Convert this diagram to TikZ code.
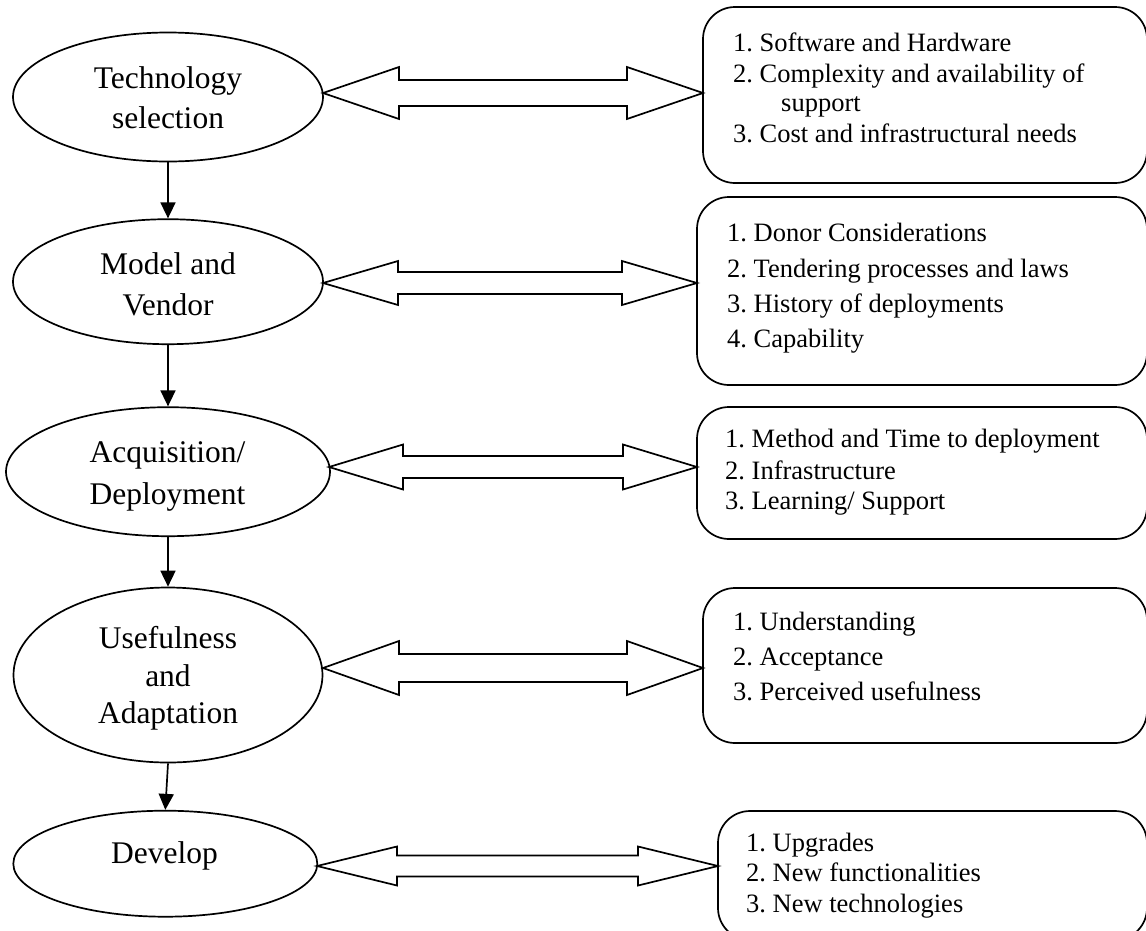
\documentclass[tikz,border=0pt]{standalone}
\usepackage{fontspec}
\setmainfont{Liberation Serif}
\usetikzlibrary{arrows.meta,shapes.geometric,calc}
\frenchspacing
\tikzset{
  stage/.style={draw, ellipse, line width=1.7pt, inner sep=0pt},
  infobox/.style={draw, rectangle, rounded corners=32pt, line width=1.7pt, inner sep=0pt},
  etext/.style={anchor=base, font=\fontsize{31.5}{36}\selectfont, inner sep=0pt},
  btext/.style={anchor=base west, font=\fontsize{26.5}{30}\selectfont, inner sep=0pt},
  flow/.style={line width=1.7pt, -{Triangle[length=16pt,width=15pt]}},
  dblarr/.style={line width=1.7pt, line join=miter},
}
\newcommand\dblarrow[5]{%
  \draw[dblarr] let \p1=(#1), \p2=(#2) in
   (\x1,\y1) -- (\x1+#3pt,\y1+#4pt) -- (\x1+#3pt,\y1+#5pt) -- (\x2-#3pt,\y2+#5pt)
   -- (\x2-#3pt,\y2+#4pt) -- (\x2,\y2) -- (\x2-#3pt,\y2-#4pt) -- (\x2-#3pt,\y2-#5pt)
   -- (\x1+#3pt,\y1-#5pt) -- (\x1+#3pt,\y1-#4pt) -- cycle;}
\begin{document}
\begin{tikzpicture}[x=1pt,y=-1pt]
\useasboundingbox (0,0) rectangle (1146,930);
\clip (0,0) rectangle (1146,930);
% stages
\node[stage, minimum width=310pt, minimum height=129pt] (e1) at (168,97) {};
\node[stage, minimum width=310pt, minimum height=125pt] (e2) at (168,281.7) {};
\node[stage, minimum width=324pt, minimum height=129pt] (e3) at (168,471.7) {};
\node[stage, minimum width=309pt, minimum height=175pt] (e4) at (168,675) {};
\node[stage, minimum width=304pt, minimum height=106pt] (e5) at (165.3,863.7) {};
\node[etext] (e1a) at (168,88) {Technology};
\node[etext] (e1b) at (168,128) {selection};
\node[etext] (e2a) at (168,274) {Model and};
\node[etext] (e2b) at (168,315) {Vendor};
\node[etext] (e3a) at (167.5,462.7) {Acquisition/};
\node[etext] (e3b) at (167.5,504) {Deployment};
\node[etext] (e4a) at (168,648.7) {Usefulness};
\node[etext] (e4b) at (168,686) {and};
\node[etext] (e4c) at (168,723.3) {Adaptation};
\node[etext] (e5a) at (164.5,863.3) {Develop};
% boxes
\node[infobox, minimum width=444pt, minimum height=176pt] (b1) at (925,95) {};
\node[infobox, minimum width=450pt, minimum height=188pt] (b2) at (922,291) {};
\node[infobox, minimum width=450pt, minimum height=132pt] (b3) at (922,473) {};
\node[infobox, minimum width=444pt, minimum height=155pt] (b4) at (925,665.5) {};
\node[infobox, minimum width=429pt, minimum height=129pt] (b5) at (932.5,875.5) {};
\node[btext] (b1a) at (733,51) {1. Software and Hardware};
\node[btext] (b1b) at (733,82) {2. Complexity and availability of};
\node[btext] (b1c) at (781,111) {support};
\node[btext] (b1d) at (733,142) {3. Cost and infrastructural needs};
\node[btext] (b2a) at (727,241) {1. Donor Considerations};
\node[btext] (b2b) at (727,277) {2. Tendering processes and laws};
\node[btext] (b2c) at (727,312) {3. History of deployments};
\node[btext] (b2d) at (727,347) {4. Capability};
\node[btext] (b3a) at (725,447.5) {1. Method and Time to deployment};
\node[btext] (b3b) at (725,479) {2. Infrastructure};
\node[btext] (b3c) at (725,509) {3. Learning/ Support};
\node[btext] (b4a) at (733,630) {1. Understanding};
\node[btext] (b4b) at (733,665.5) {2. Acceptance};
\node[btext] (b4c) at (733,700) {3. Perceived usefulness};
\node[btext] (b5a) at (746,851) {1. Upgrades};
\node[btext] (b5b) at (746,881) {2. New functionalities};
\node[btext] (b5c) at (746,912) {3. New technologies};
% flow arrows
\draw[flow] (e1.south) -- (e2.north);
\draw[flow] (e2.south) -- (e3.north);
\draw[flow] (e3.south) -- (e4.north);
\draw[flow] (e4.south) -- (e5.north);
% double arrows
\coordinate (a1l) at (323,93);   \coordinate (a1r) at (703,93);
\coordinate (a2l) at (323,283);  \coordinate (a2r) at (697,283);
\coordinate (a3l) at (329,467);  \coordinate (a3r) at (697,467);
\coordinate (a4l) at (323,668);  \coordinate (a4r) at (703,668);
\coordinate (a5l) at (317,866);  \coordinate (a5r) at (718,866);
\dblarrow{a1l}{a1r}{76}{26}{13}
\dblarrow{a2l}{a2r}{75}{22}{11}
\dblarrow{a3l}{a3r}{74}{22.5}{11}
\dblarrow{a4l}{a4r}{76}{27}{14}
\dblarrow{a5l}{a5r}{80}{19.5}{10.5}
\end{tikzpicture}
\end{document}
